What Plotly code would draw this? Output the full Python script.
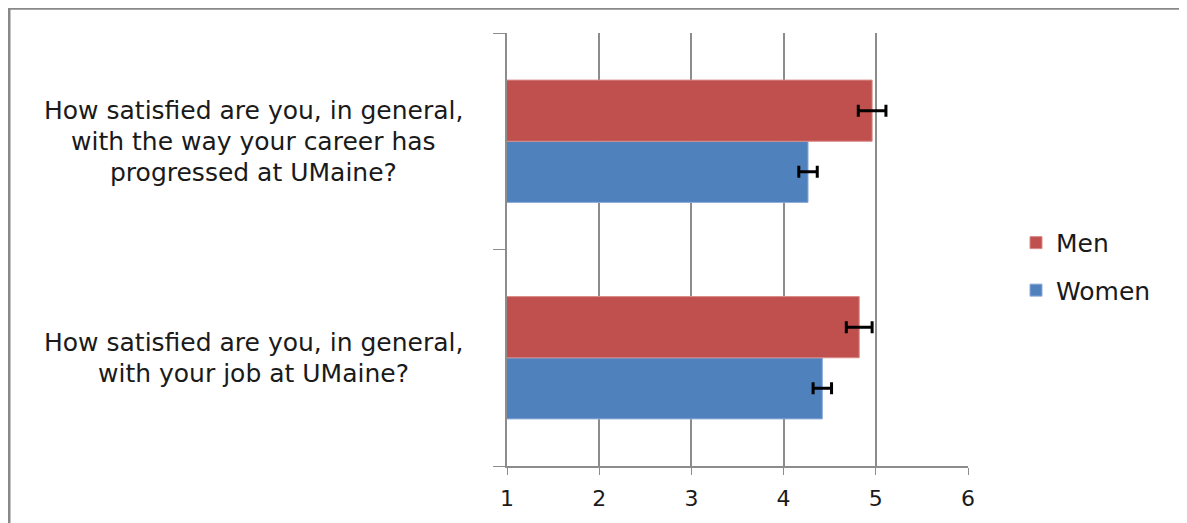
import plotly.graph_objects as go

# Data
categories = ["job", "career"]  # bottom to top
category_lines = {
    "career": ["How satisfied are you, in general,", "with the way your career has", "progressed at UMaine?"],
    "job": ["How satisfied are you, in general,", "with your job at UMaine?"],
}
men_values = [4.82, 4.96]
men_errors = [0.14, 0.15]
women_values = [4.42, 4.265]
women_errors = [0.10, 0.10]

RED = "#C0504D"
BLUE = "#4F81BD"
GRID = "#8C8C8C"
TEXT = "#1a1a1a"

# page body has an 8px margin: work in screen pixels, convert to figure pixels
OFF = 8
W, H = 1187 - OFF, 523 - OFF
PL, PR, PT, PB = 507, 968, 33, 469  # plot area in screen px
L, R, T, B = PL - OFF, W - (PR - OFF), PT - OFF, H - (PB - OFF)
pw, ph = W - L - R, H - T - B


def px_x(p):
    return (p - PL) / pw


def px_y(p):
    return (PB - p) / ph


fig = go.Figure()
fig.add_trace(go.Bar(
    y=categories, x=women_values, orientation="h", name="Women",
    marker=dict(color=BLUE, line=dict(color="#8EAADB", width=1)),
    error_x=dict(type="data", array=women_errors, color="black", thickness=3, width=6),
    legendgroup="w", legendrank=2,
))
fig.add_trace(go.Bar(
    y=categories, x=men_values, orientation="h", name="Men",
    marker=dict(color=RED, line=dict(color="#D98A88", width=1)),
    error_x=dict(type="data", array=men_errors, color="black", thickness=3, width=6),
    legendgroup="m", legendrank=1,
))

# category labels, centred, one annotation per line
line_gap = 31
for cat, lines in category_lines.items():
    n = len(lines)
    for i, txt in enumerate(lines):
        fig.add_annotation(
            x=px_x(253), xref="paper", xanchor="center",
            y=cat, yref="y", yanchor="middle",
            yshift=((n - 1) / 2 - i) * line_gap,
            text=txt, showarrow=False,
            font=dict(family="DejaVu Sans", size=25, color=TEXT),
        )

# outer chart-area border (left and top edges visible)
fig.add_shape(type="line", xref="paper", yref="paper",
              x0=px_x(9), x1=px_x(9), y0=px_y(8), y1=px_y(540),
              line=dict(color="#888888", width=3))
fig.add_shape(type="line", xref="paper", yref="paper",
              x0=px_x(8), x1=px_x(1200), y0=px_y(8.5), y1=px_y(8.5),
              line=dict(color="#888888", width=2))

fig.update_layout(
    width=W, height=H,
    margin=dict(l=L, r=R, t=T, b=B, pad=0),
    paper_bgcolor="white", plot_bgcolor="white",
    barmode="group", bargap=0.435, bargroupgap=0,
    font=dict(family="DejaVu Sans", color=TEXT),
    xaxis=dict(range=[1, 6], dtick=1, tick0=1, showgrid=True, gridcolor=GRID, gridwidth=1.5,
               showline=True, linecolor=GRID, linewidth=1.5, ticks="outside", ticklen=7,
               tickcolor=GRID, tickfont=dict(size=22, color=TEXT), zeroline=False,
               ticklabelstandoff=5),
    yaxis=dict(type="category", categoryorder="array", categoryarray=categories,
               showticklabels=False, showline=True, linecolor=GRID, linewidth=1.5,
               ticks="outside", ticklen=12, tickcolor=GRID, tickson="boundaries",
               showgrid=False),
    legend=dict(x=px_x(1016), y=px_y(268), xanchor="left", yanchor="middle",
                traceorder="grouped", tracegroupgap=12,
                font=dict(size=25, color=TEXT), bgcolor="rgba(0,0,0,0)"),
    showlegend=True,
)

fig.write_html("out.html")
